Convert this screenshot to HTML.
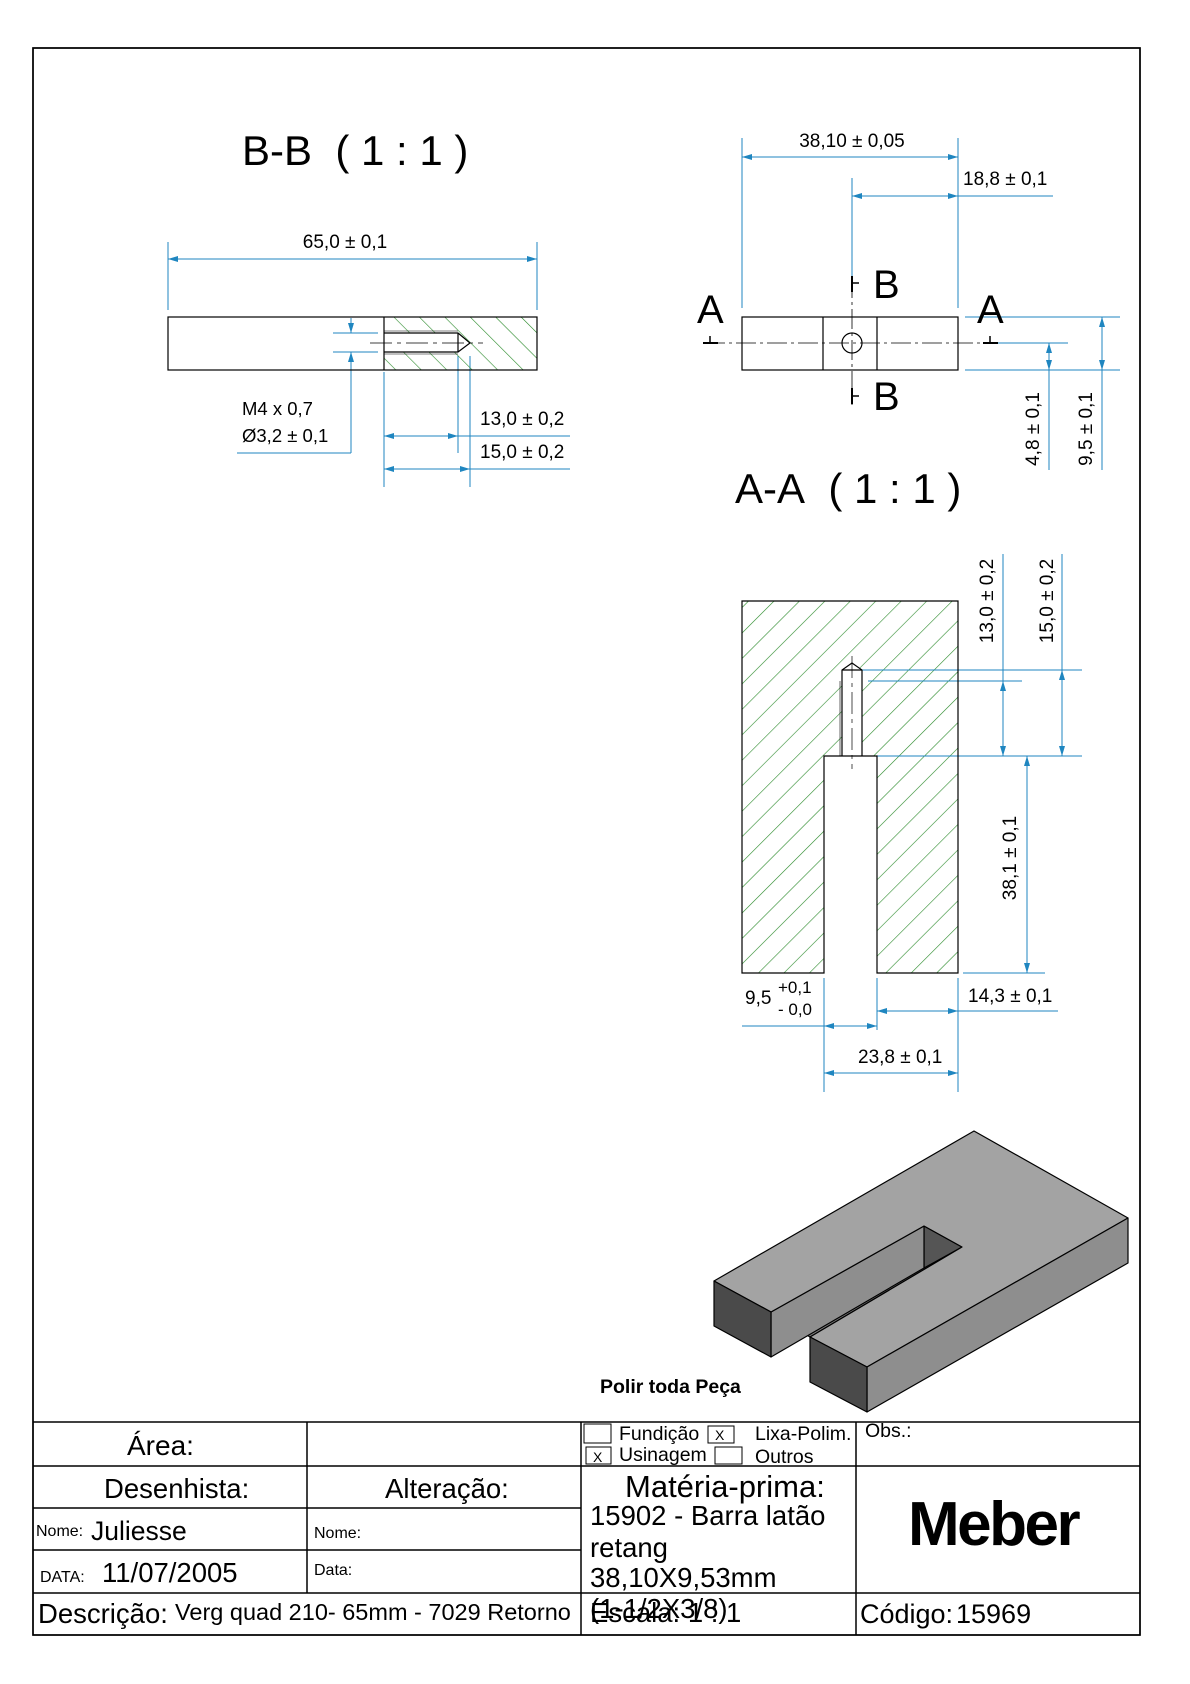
<!DOCTYPE html>
<html><head><meta charset="utf-8"><style>
html,body{margin:0;padding:0;background:#fff}
svg{display:block}
text{font-family:"Liberation Sans",sans-serif;fill:#000}
</style></head><body>
<svg width="1190" height="1684" viewBox="0 0 1190 1684" xmlns="http://www.w3.org/2000/svg">
<defs>
<marker id="ar" viewBox="0 0 10 6" refX="10" refY="3" markerWidth="10" markerHeight="6" markerUnits="userSpaceOnUse" orient="auto-start-reverse"><path d="M0,0L10,3L0,6z" fill="#1f86c0"/></marker>
<pattern id="hbb" patternUnits="userSpaceOnUse" width="18" height="18" patternTransform="rotate(-45)"><line x1="0" y1="0" x2="0" y2="18" stroke="#2a8a2a" stroke-width="1.2"/></pattern>
<pattern id="haa" patternUnits="userSpaceOnUse" width="18" height="18" patternTransform="rotate(45)"><line x1="0" y1="0" x2="0" y2="18" stroke="#2a8a2a" stroke-width="1.2"/></pattern>
</defs>
<rect x="33" y="48" width="1107" height="1587" fill="none" stroke="#000" stroke-width="1.5"/>

<!-- B-B view -->
<text x="242" y="165" font-size="42">B-B&#160;&#160;( 1 : 1 )</text>
<g stroke="#1f86c0" stroke-width="1" fill="none">
<line x1="168" y1="242" x2="168" y2="310"/><line x1="537" y1="242" x2="537" y2="310"/>
<line x1="168" y1="259" x2="537" y2="259" marker-start="url(#ar)" marker-end="url(#ar)"/>
<line x1="333" y1="333" x2="378" y2="333"/><line x1="333" y1="352" x2="378" y2="352"/>
<line x1="351" y1="318" x2="351" y2="333" marker-end="url(#ar)"/>
<line x1="351" y1="367" x2="351" y2="352" marker-end="url(#ar)"/>
<line x1="351" y1="352" x2="351" y2="453"/><line x1="237" y1="453" x2="351" y2="453"/>
<line x1="384" y1="372" x2="384" y2="487"/><line x1="458" y1="356" x2="458" y2="453"/><line x1="470" y1="356" x2="470" y2="487"/>
<line x1="384" y1="436" x2="458" y2="436" marker-start="url(#ar)" marker-end="url(#ar)"/><line x1="458" y1="436" x2="570" y2="436"/>
<line x1="384" y1="469" x2="470" y2="469" marker-start="url(#ar)" marker-end="url(#ar)"/><line x1="470" y1="469" x2="570" y2="469"/>
</g>
<rect x="384" y="317" width="153" height="53" fill="url(#hbb)"/>
<rect x="384" y="333" width="74" height="19" fill="#fff"/>
<path d="M458,333L470,343L458,352z" fill="#fff"/>
<g stroke="#000" stroke-width="1.2" fill="none">
<rect x="168" y="317" width="369" height="53"/>
<line x1="384" y1="317" x2="384" y2="370"/>
<path d="M384,333H458L470,343L458,352H384"/><line x1="458" y1="333" x2="458" y2="352"/>
<line x1="384" y1="331" x2="458" y2="331" stroke-width="0.6"/><line x1="384" y1="354" x2="458" y2="354" stroke-width="0.6"/>
<line x1="370" y1="343" x2="483" y2="343" stroke-width="0.7" stroke-dasharray="22,5,4,5"/>
</g>
<text x="345" y="248" font-size="19" text-anchor="middle">65,0 ± 0,1</text>
<text x="242" y="415" font-size="18.5">M4 x 0,7</text>
<text x="242" y="442" font-size="18.5">Ø3,2 ± 0,1</text>
<text x="480" y="425" font-size="19">13,0 ± 0,2</text>
<text x="480" y="458" font-size="19">15,0 ± 0,2</text>

<!-- Top view -->
<g stroke="#1f86c0" stroke-width="1" fill="none">
<line x1="742" y1="138" x2="742" y2="308"/><line x1="958" y1="138" x2="958" y2="308"/>
<line x1="742" y1="157" x2="958" y2="157" marker-start="url(#ar)" marker-end="url(#ar)"/>
<line x1="852" y1="178" x2="852" y2="280"/>
<line x1="852" y1="196" x2="958" y2="196" marker-start="url(#ar)" marker-end="url(#ar)"/><line x1="958" y1="196" x2="1053" y2="196"/>
<line x1="965" y1="317" x2="1120" y2="317"/><line x1="965" y1="370" x2="1120" y2="370"/><line x1="985" y1="343" x2="1068" y2="343"/>
<line x1="1049" y1="343" x2="1049" y2="370" marker-start="url(#ar)" marker-end="url(#ar)"/><line x1="1049" y1="370" x2="1049" y2="470"/>
<line x1="1102" y1="317" x2="1102" y2="370" marker-start="url(#ar)" marker-end="url(#ar)"/><line x1="1102" y1="370" x2="1102" y2="470"/>
</g>
<g stroke="#000" stroke-width="1.2" fill="none">
<rect x="742" y="317" width="216" height="53"/>
<line x1="823" y1="317" x2="823" y2="370"/><line x1="877" y1="317" x2="877" y2="370"/>
<circle cx="852" cy="343" r="10"/>
<line x1="705" y1="343" x2="995" y2="343" stroke-width="0.8" stroke-dasharray="20,4,3,4"/>
<line x1="852" y1="278" x2="852" y2="405" stroke-width="0.8" stroke-dasharray="20,4,3,4"/>
<line x1="703" y1="343" x2="718" y2="343" stroke-width="2"/><line x1="710" y1="336" x2="710" y2="343" stroke-width="1.5"/>
<line x1="983" y1="343" x2="998" y2="343" stroke-width="2"/><line x1="990" y1="336" x2="990" y2="343" stroke-width="1.5"/>
<line x1="852" y1="276" x2="852" y2="292" stroke-width="2"/><line x1="852" y1="283" x2="859" y2="283" stroke-width="1.5"/>
<line x1="852" y1="388" x2="852" y2="404" stroke-width="2"/><line x1="852" y1="396" x2="859" y2="396" stroke-width="1.5"/>
</g>
<text x="697" y="323" font-size="40">A</text><text x="977" y="323" font-size="40">A</text>
<text x="873" y="298" font-size="40">B</text><text x="873" y="410" font-size="40">B</text>
<text x="852" y="147" font-size="19" text-anchor="middle">38,10 ± 0,05</text>
<text x="963" y="185" font-size="19">18,8 ± 0,1</text>
<text transform="translate(1039,429) rotate(-90)" font-size="19" text-anchor="middle">4,8 ± 0,1</text>
<text transform="translate(1092,429) rotate(-90)" font-size="19" text-anchor="middle">9,5 ± 0,1</text>
<text x="735" y="503" font-size="42">A-A&#160;&#160;( 1 : 1 )</text>

<!-- A-A section -->
<rect x="742" y="601" width="216" height="372" fill="url(#haa)"/>
<rect x="824" y="756" width="53" height="220" fill="#fff"/>
<path d="M842,756V670L852,663L862,670V756z" fill="#fff"/>
<g stroke="#1f86c0" stroke-width="1" fill="none">
<line x1="868" y1="681" x2="1022" y2="681"/><line x1="862" y1="670" x2="1082" y2="670"/><line x1="877" y1="756" x2="1082" y2="756"/>
<line x1="1003" y1="554" x2="1003" y2="681"/><line x1="1062" y1="554" x2="1062" y2="670"/>
<line x1="1003" y1="681" x2="1003" y2="756" marker-start="url(#ar)" marker-end="url(#ar)"/>
<line x1="1062" y1="670" x2="1062" y2="756" marker-start="url(#ar)" marker-end="url(#ar)"/>
<line x1="1027" y1="756" x2="1027" y2="973" marker-start="url(#ar)" marker-end="url(#ar)"/><line x1="963" y1="973" x2="1045" y2="973"/>
<line x1="824" y1="978" x2="824" y2="1092"/><line x1="877" y1="978" x2="877" y2="1030"/><line x1="958" y1="978" x2="958" y2="1092"/>
<line x1="877" y1="1011" x2="958" y2="1011" marker-start="url(#ar)" marker-end="url(#ar)"/><line x1="958" y1="1011" x2="1058" y2="1011"/>
<line x1="742" y1="1026" x2="824" y2="1026"/><line x1="824" y1="1026" x2="877" y2="1026" marker-start="url(#ar)" marker-end="url(#ar)"/>
<line x1="824" y1="1073" x2="958" y2="1073" marker-start="url(#ar)" marker-end="url(#ar)"/>
</g>
<g stroke="#000" stroke-width="1.2" fill="none">
<path d="M824,973H742V601H958V973H877V756H824z"/>
<path d="M842,756V670L852,663L862,670V756"/><line x1="842" y1="670" x2="862" y2="670"/>
<line x1="840" y1="681" x2="840" y2="756" stroke-width="0.6"/>
<line x1="852" y1="656" x2="852" y2="769" stroke-width="0.7" stroke-dasharray="22,5,4,5"/>
</g>
<text transform="translate(993,601) rotate(-90)" font-size="19" text-anchor="middle">13,0 ± 0,2</text>
<text transform="translate(1053,601) rotate(-90)" font-size="19" text-anchor="middle">15,0 ± 0,2</text>
<text transform="translate(1016,858) rotate(-90)" font-size="19" text-anchor="middle">38,1 ± 0,1</text>
<text x="968" y="1002" font-size="19">14,3 ± 0,1</text>
<text x="745" y="1004" font-size="19">9,5</text>
<text x="778" y="993" font-size="17">+0,1</text>
<text x="778" y="1015" font-size="17">- 0,0</text>
<text x="858" y="1063" font-size="19">23,8 ± 0,1</text>

<!-- 3D -->
<g stroke="#000" stroke-width="1.2" stroke-linejoin="round">
<polygon points="771,1312 924,1226 962,1247 810,1337" fill="#7d7d7d"/>
<polygon points="924,1226 962,1247 924,1268" fill="#555"/>
<polygon points="771,1312 924,1226 924,1268 771,1357" fill="#8e8e8e"/>
<polygon points="714,1281 974,1131 1128,1218 867,1367 810,1337 962,1247 924,1226 771,1312" fill="#a3a3a3"/>
<polygon points="714,1281 771,1312 771,1357 714,1326" fill="#4a4a4a"/>
<polygon points="867,1367 1128,1218 1128,1263 867,1412" fill="#8e8e8e"/>
<polygon points="810,1337 867,1367 867,1412 810,1382" fill="#4a4a4a"/>
</g>
<text x="600" y="1393" font-size="19.5" font-weight="bold">Polir toda Peça</text>

<!-- Title block -->
<g stroke="#000" stroke-width="1.5" fill="none">
<line x1="33" y1="1422" x2="1140" y2="1422"/>
<line x1="33" y1="1466" x2="1140" y2="1466"/>
<line x1="33" y1="1508" x2="581" y2="1508"/>
<line x1="33" y1="1550" x2="581" y2="1550"/>
<line x1="33" y1="1593" x2="1140" y2="1593"/>
<line x1="307" y1="1422" x2="307" y2="1593"/>
<line x1="581" y1="1422" x2="581" y2="1635"/>
<line x1="856" y1="1422" x2="856" y2="1635"/>
<rect x="584" y="1424" width="27" height="19" stroke-width="1"/>
<rect x="708" y="1426" width="26" height="17" stroke-width="1"/>
<rect x="586" y="1447" width="25" height="17" stroke-width="1"/>
<rect x="715" y="1447" width="27" height="17" stroke-width="1"/>
</g>
<text x="127" y="1455" font-size="28">Área:</text>
<text x="619" y="1440" font-size="19.5">Fundição</text>
<text x="715" y="1440" font-size="14">X</text>
<text x="755" y="1440" font-size="19.5">Lixa-Polim.</text>
<text x="593" y="1462" font-size="14">X</text>
<text x="619" y="1461" font-size="19.5">Usinagem</text>
<text x="755" y="1463" font-size="19.5">Outros</text>
<text x="865" y="1437" font-size="19.5">Obs.:</text>
<text x="104" y="1498" font-size="27.5">Desenhista:</text>
<text x="385" y="1498" font-size="27.5">Alteração:</text>
<text x="36" y="1536" font-size="16">Nome:</text>
<text x="91" y="1540" font-size="26.5">Juliesse</text>
<text x="314" y="1538" font-size="16">Nome:</text>
<text x="40" y="1582" font-size="16">DATA:</text>
<text x="102" y="1582" font-size="27.5">11/07/2005</text>
<text x="314" y="1575" font-size="16">Data:</text>
<text x="625" y="1497" font-size="31">Matéria-prima:</text>
<text x="590" y="1525" font-size="27.5">15902 - Barra latão</text>
<text x="590" y="1557" font-size="27.5">retang</text>
<text x="590" y="1587" font-size="27.5">38,10X9,53mm</text>
<text x="908" y="1545" font-size="62" font-weight="bold" letter-spacing="-2.5">Meber</text>
<text x="38" y="1623" font-size="27.5">Descrição:</text>
<text x="175" y="1620" font-size="23.5">Verg quad 210- 65mm - 7029 Retorno</text>
<text x="590" y="1622" font-size="27.5">Escala: 1 : 1</text>
<text x="590" y="1618" font-size="27.5">(1-1/2X3/8)</text>
<text x="860" y="1623" font-size="27">Código:</text>
<text x="956" y="1623" font-size="27">15969</text>
<rect x="33" y="48" width="1107" height="1587" fill="none" stroke="#000" stroke-width="1.5"/>
</svg>
</body></html>
